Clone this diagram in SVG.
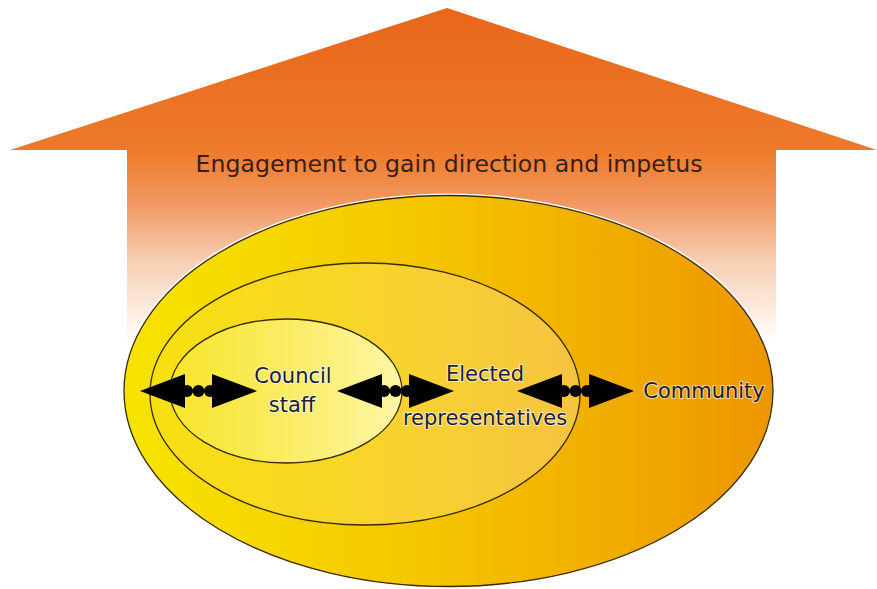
<svg xmlns="http://www.w3.org/2000/svg" xmlns:xlink="http://www.w3.org/1999/xlink" width="877" height="589" viewBox="0 0 877 589">
  <defs>
    <!-- house-shaped upward arrow: orange fading to white at the bottom -->
    <linearGradient id="houseFill" x1="0" y1="8" x2="0" y2="345" gradientUnits="userSpaceOnUse">
      <stop offset="0" stop-color="#e8661a"/>
      <stop offset="0.42" stop-color="#ed7a2a"/>
      <stop offset="0.58" stop-color="#f19862"/>
      <stop offset="0.75" stop-color="#f7ceb2"/>
      <stop offset="0.92" stop-color="#fdf1e8"/>
      <stop offset="1" stop-color="#ffffff"/>
    </linearGradient>
    <linearGradient id="outerFill" x1="124" y1="0" x2="773" y2="0" gradientUnits="userSpaceOnUse">
      <stop offset="0" stop-color="#f6e400"/>
      <stop offset="0.45" stop-color="#f5c700"/>
      <stop offset="1" stop-color="#ed9600"/>
    </linearGradient>
    <linearGradient id="middleFill" x1="150" y1="0" x2="580" y2="0" gradientUnits="userSpaceOnUse">
      <stop offset="0" stop-color="#f7e010"/>
      <stop offset="0.6" stop-color="#f8d230"/>
      <stop offset="1" stop-color="#f6c340"/>
    </linearGradient>
    <linearGradient id="innerFill" x1="170" y1="0" x2="402" y2="0" gradientUnits="userSpaceOnUse">
      <stop offset="0" stop-color="#f7e52a"/>
      <stop offset="0.6" stop-color="#fbee70"/>
      <stop offset="1" stop-color="#fff6a8"/>
    </linearGradient>
    <!-- double-headed dotted arrow, 117 px long, centred on y=0 -->
    <g id="twoWay" fill="#000">
      <polygon points="0,0 45,-17 45,17"/>
      <polygon points="117,0 72,-17 72,17"/>
      <circle cx="47" cy="0" r="6"/>
      <circle cx="58.5" cy="0" r="6"/>
      <circle cx="70" cy="0" r="6"/>
    </g>
  </defs>
  <style>
    .ring { stroke: #3a2a00; stroke-width: 1.3; }
    .label { font-family: "DejaVu Sans", Verdana, sans-serif; font-size: 21px; fill: #1c1c3a; text-anchor: middle; stroke: #ffffff; stroke-width: 2px; stroke-opacity: 0.6; paint-order: stroke; }
    .title { font-family: "DejaVu Sans", Verdana, sans-serif; font-size: 22.5px; fill: #3b1e0f; text-anchor: middle; }
  </style>

  <rect width="877" height="589" fill="#ffffff"/>

  <g id="engagement-arrow">
    <polygon points="447,8 877,150 776,150 776,345 127,345 127,150 10,150" fill="url(#houseFill)"/>
    <text class="title" x="449" y="172" textLength="507" lengthAdjust="spacingAndGlyphs">Engagement to gain direction and impetus</text>
  </g>

  <g id="community">
    <ellipse cx="448.5" cy="391" rx="327" ry="197.5" fill="#ffffff"/>
    <ellipse class="ring" cx="448.5" cy="391" rx="324.5" ry="195.5" fill="url(#outerFill)"/>
    <text class="label" x="704" y="398">Community</text>
  </g>

  <g id="elected-representatives">
    <ellipse class="ring" cx="365" cy="394" rx="215" ry="131" fill="url(#middleFill)"/>
    <text class="label" x="485" y="381">Elected</text>
    <text class="label" x="485" y="425">representatives</text>
  </g>

  <g id="council-staff">
    <ellipse class="ring" cx="286" cy="391" rx="116" ry="72" fill="url(#innerFill)"/>
    <text class="label" x="293" y="383">Council</text>
    <text class="label" x="292" y="412">staff</text>
  </g>

  <g id="connectors">
    <use xlink:href="#twoWay" x="140" y="391"/>
    <use xlink:href="#twoWay" x="337" y="391"/>
    <use xlink:href="#twoWay" x="517" y="391"/>
  </g>
</svg>
